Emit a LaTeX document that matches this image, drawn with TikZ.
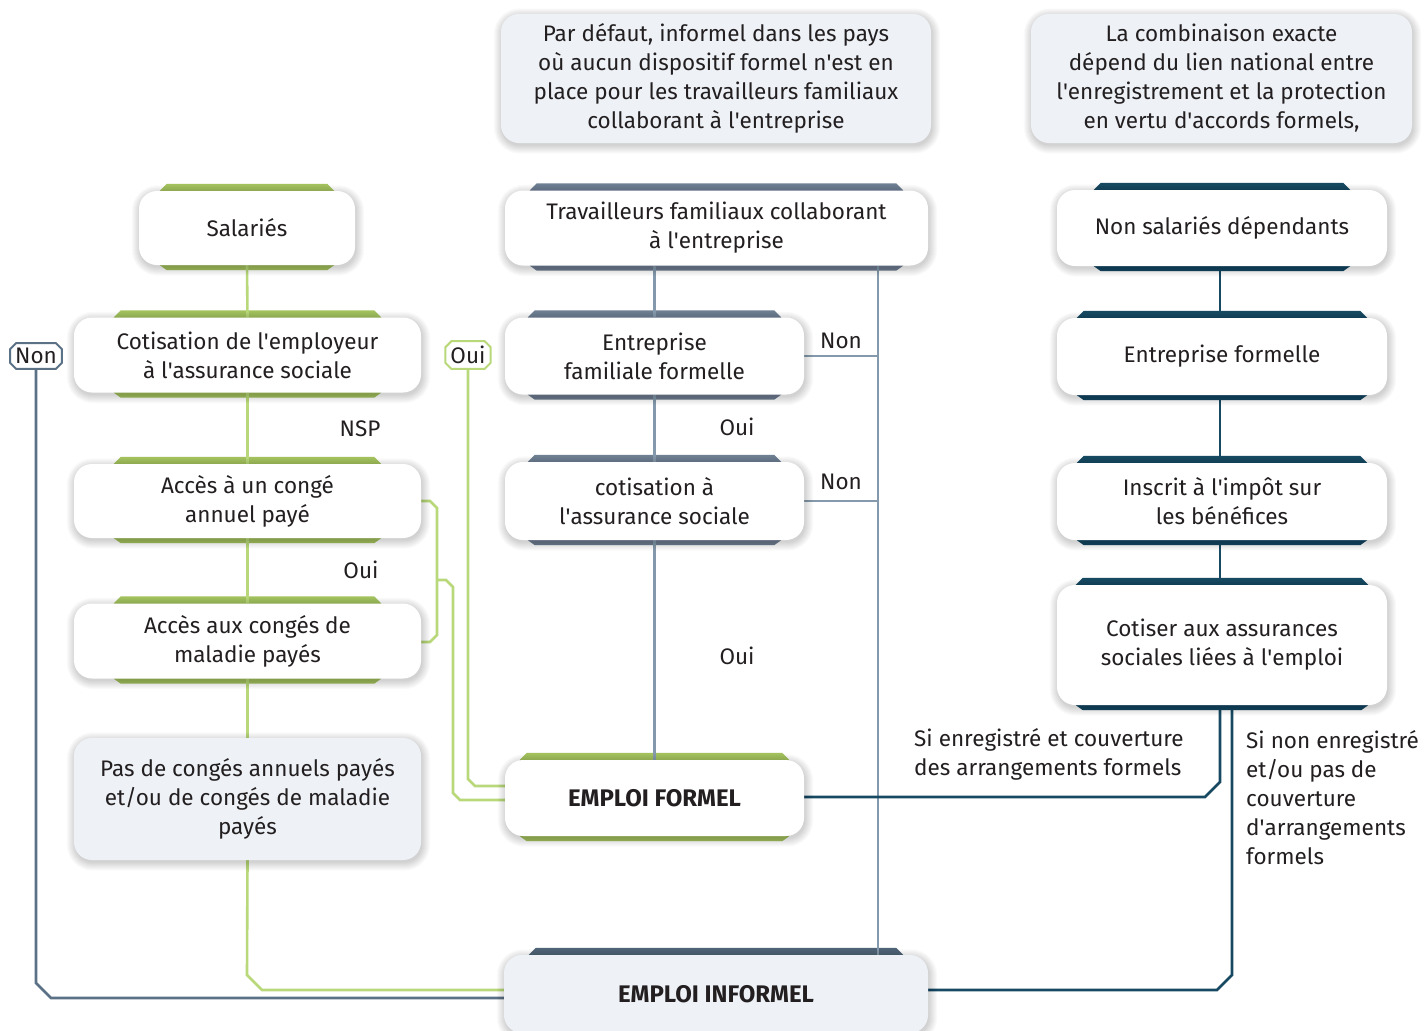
\documentclass[tikz,border=0pt]{standalone}
\usepackage{fontspec}
\setmainfont{Fira Sans}
\usetikzlibrary{calc,shapes.misc}
\definecolor{txt}{HTML}{231F20}
\definecolor{gbar}{HTML}{A3C25E}
\definecolor{gline}{HTML}{B8D87A}
\definecolor{mbar}{HTML}{6F8092}
\definecolor{mline}{HTML}{8599AD}
\definecolor{ibar}{HTML}{4F6478}
\definecolor{teal}{HTML}{174A62}
\definecolor{nonc}{HTML}{5B7185}
\definecolor{pale}{HTML}{EEF2F7}
\newcommand\ap{\textquotesingle}
\pgfdeclarelayer{background}
\pgfdeclarelayer{shadowlayer}
\pgfsetlayers{background,shadowlayer,main}
\newcommand\hdrbar[3]{%
  \fill[#2] ([xshift=#3pt,yshift=7pt]#1.north west) -- ([xshift=-#3pt,yshift=7pt]#1.north east)
   -- ([xshift=-#3pt+7pt]#1.north east) -- ([xshift=-#3pt+7pt]#1.south east)
   -- ([xshift=-#3pt,yshift=-5pt]#1.south east) -- ([xshift=#3pt,yshift=-5pt]#1.south west)
   -- ([xshift=#3pt-7pt]#1.south west) -- ([xshift=#3pt-7pt]#1.north west) -- cycle;}
\newcommand\softshadow[1]{%
  \foreach \k in {0,1,...,8}{%
    \fill[black, opacity=0.02, rounded corners=18pt+\k pt]
      ([xshift=-\k pt+1pt, yshift=\k pt-2.5pt]#1.north west) rectangle
      ([xshift=\k pt+1pt, yshift=-\k pt-2.5pt]#1.south east);}}
\begin{document}
\begin{tikzpicture}[x=1pt,y=-1pt,
  every node/.style={text=txt, font=\fontsize{22.5}{29}\selectfont},
  box/.style={fill=white, rounded corners=18pt, align=center, inner sep=0pt},
  palebox/.style={box, fill=pale},
  bold/.style={font=\fontsize{24}{29}\selectfont\bfseries},
  lbl/.style={inner sep=0pt},
  tag/.style={chamfered rectangle, chamfered rectangle xsep=3pt, chamfered rectangle ysep=3pt,
    fill=white, line width=2pt, inner sep=2pt},
  gl/.style={gline, line width=2.6pt},
  ml/.style={mline, line width=2.6pt},
  tl/.style={teal, line width=2.6pt},
  nl/.style={nonc, line width=2.6pt}]
\useasboundingbox (0,0) rectangle (1428,1031);

% notes
\node[palebox, minimum width=430pt, minimum height=129pt] (note1) at (716,78.5)
  {Par défaut, informel dans les pays\\où aucun dispositif formel n\ap est en\\place pour les travailleurs familiaux\\collaborant à l\ap entreprise};
\node[palebox, minimum width=381pt, minimum height=129pt] (note2) at (1221.5,78.5)
  {La combinaison exacte\\dépend du lien national entre\\l\ap enregistrement et la protection\\en vertu d\ap accords formels,};

% left column
\node[box, minimum width=216pt, minimum height=74pt] (sal) at (247,228) {Salariés};
\node[box, minimum width=347pt, minimum height=75pt] (cote) at (247.5,355) {Cotisation de l\ap employeur\\à l\ap assurance sociale};
\node[box, minimum width=347pt, minimum height=74pt] (acc) at (247.5,501) {Accès à un congé\\annuel payé};
\node[box, minimum width=347pt, minimum height=75pt] (mal) at (247.5,641) {Accès aux congés de\\maladie payés};
\node[palebox, minimum width=347pt, minimum height=122pt] (pas) at (247.5,799) {Pas de congés annuels payés\\et/ou de congés de maladie\\payés};

% middle column
\node[box, minimum width=423pt, minimum height=75pt] (trav) at (716.5,228) {Travailleurs familiaux collaborant\\à l\ap entreprise};
\node[box, minimum width=299pt, minimum height=77pt] (ef) at (654.5,356) {Entreprise\\familiale formelle};
\node[box, minimum width=299pt, minimum height=78pt] (cot) at (654.5,501) {cotisation à\\l\ap assurance sociale};
\node[box, bold, minimum width=299pt, minimum height=76pt] (formel) at (654.5,798) {EMPLOI FORMEL};
\node[palebox, bold, minimum width=424pt, minimum height=78pt] (informel) at (716,994) {EMPLOI INFORMEL};

% right column
\node[box, minimum width=330pt, minimum height=76pt] (ns) at (1222,228) {Non salariés dépendants};
\node[box, minimum width=330pt, minimum height=77pt] (entf) at (1222,356.5) {Entreprise formelle};
\node[box, minimum width=330pt, minimum height=77pt] (insc) at (1222,501.5) {Inscrit à l\ap impôt sur\\les bénéfices};
\node[box, minimum width=330pt, minimum height=120pt] (cotr) at (1222,645) {Cotiser aux assurances\\sociales liées à l\ap emploi};

% tags and labels
\node[tag, draw=nonc] (nonbox) at (36,356) {Non};
\node[tag, draw=gline] (ouibox) at (468,355) {Oui};
\node[lbl] (nsp) at (360,429) {NSP};
\node[lbl] (oui1) at (361,570) {Oui};
\node[lbl] (oui2) at (737,427) {Oui};
\node[lbl] (oui3) at (737,656) {Oui};
\node[lbl] (non1) at (841,341) {Non};
\node[lbl] (non2) at (841,482) {Non};
\node[lbl, anchor=west, align=left] (sienr) at (914,754) {Si enregistré et couverture\\des arrangements formels};
\node[lbl, anchor=west, align=left] (sinon) at (1246,798) {Si non enregistré\\et/ou pas de\\couverture\\d\ap arrangements\\formels};

\begin{pgfonlayer}{shadowlayer}
\foreach \n in {note1,note2,sal,cote,acc,mal,pas,trav,ef,cot,formel,informel,ns,entf,insc,cotr}{\softshadow{\n}}
\end{pgfonlayer}

\begin{pgfonlayer}{background}
\fill[white] (0,0) rectangle (1428,1031);
% header bars
\hdrbar{sal}{gbar}{28}
\hdrbar{cote}{gbar}{47}
\hdrbar{acc}{gbar}{47}
\hdrbar{mal}{gbar}{47}
\hdrbar{formel}{gbar}{22}
\hdrbar{trav}{mbar}{32}
\hdrbar{ef}{mbar}{30}
\hdrbar{cot}{mbar}{30}
\hdrbar{informel}{ibar}{32}
\hdrbar{ns}{teal}{44}
\hdrbar{entf}{teal}{27}
\hdrbar{insc}{teal}{27}
\hdrbar{cotr}{teal}{26}

% left connectors
\draw[gl] (sal.south) -- (cote.north);
\draw[gl] (cote.south) -- (acc.north);
\draw[gl] (acc.south) -- (mal.north);
\draw[gl] (mal.south) -- (pas.north);
\draw[gl] (pas.south) -- (247,975) -- (262,990) -- (informel.west |- 0,990);
\draw[gl] (acc.east) -- (430,501) -- (437,508) -- (437,635) -- (430,642) -- (mal.east |- 0,642);
\draw[gl] (437,580) -- (446,580) -- (453,587) -- (453,793) -- (460,800) -- (formel.west |- 0,800);
\draw[gl] (ouibox.south) -- (468,779) -- (475,786) -- (formel.west |- 0,786);
\draw[nl] (nonbox.south) -- (36,983) -- (51,998) -- (informel.west |- 0,998);

% middle connectors
\draw[ml] (ef.north |- trav.south) -- (ef.north);
\draw[ml] (ef.south) -- (cot.north);
\draw[ml] (cot.south) -- (formel.north);
\draw[ml] (trav.south -| 878,0) -- (informel.north -| 878,0);
\draw[ml] (ef.east) -- (ef.east -| 878,0);
\draw[ml] (cot.east) -- (cot.east -| 878,0);

% right connectors
\draw[tl] (ns.south -| 1220,0) -- (entf.north -| 1220,0);
\draw[tl] (entf.south -| 1220,0) -- (insc.north -| 1220,0);
\draw[tl] (insc.south -| 1220,0) -- (cotr.north -| 1220,0);
\draw[tl] (cotr.south -| 1220,0) -- (1220,782) -- (1205,797) -- (formel.east |- 0,797);
\draw[tl] (cotr.south -| 1232,0) -- (1232,975) -- (1217,990) -- (informel.east |- 0,990);
\end{pgfonlayer}
\end{tikzpicture}
\end{document}
